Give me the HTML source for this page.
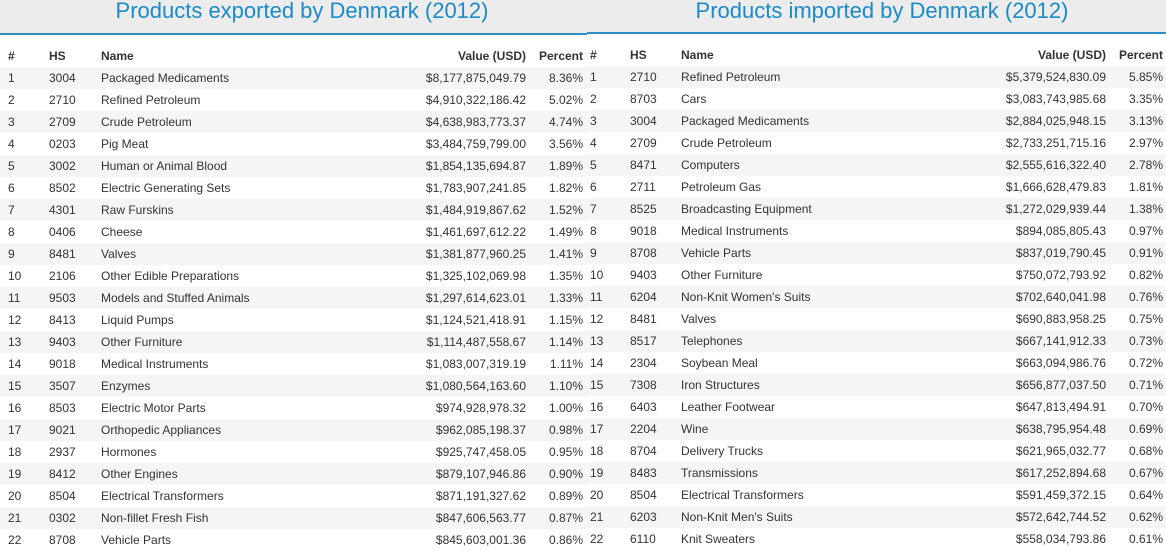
<!DOCTYPE html>
<html><head><meta charset="utf-8"><style>
body{margin:0;width:1166px;height:547px;overflow:hidden;background:#fff;font-family:"Liberation Sans",sans-serif;position:relative}
.hdr{position:absolute;top:0;height:33px;background:#ececec;border-bottom:2px solid #2a8fc4}
.title{position:absolute;top:-2px;font-size:22px;color:#1a8ac9;white-space:nowrap;transform:translateX(-50%)}
.panel{position:absolute;top:0;height:547px;background:#fff}
.row{position:absolute;left:0;height:22px;font-size:12px;color:#333;line-height:22px}
.row.g{background:#f5f5f5}
.row span{position:absolute;white-space:nowrap}
.row span.r{text-align:right}
.h{font-weight:bold;color:#333}
</style></head><body>
<div class="panel" id="pl" style="left:0;width:587px">
<div class="hdr" style="left:0;width:587px"></div>
<div class="title" style="left:302px">Products exported by Denmark (2012)</div>
</div>
<div class="panel" id="pr" style="left:587px;width:579px">
<div class="hdr" style="left:0;width:579px;top:-1px"></div>
<div class="title" style="left:295px">Products imported by Denmark (2012)</div>
</div>
<script>
const exp=[["3004","Packaged Medicaments","$8,177,875,049.79","8.36%"],["2710","Refined Petroleum","$4,910,322,186.42","5.02%"],["2709","Crude Petroleum","$4,638,983,773.37","4.74%"],["0203","Pig Meat","$3,484,759,799.00","3.56%"],["3002","Human or Animal Blood","$1,854,135,694.87","1.89%"],["8502","Electric Generating Sets","$1,783,907,241.85","1.82%"],["4301","Raw Furskins","$1,484,919,867.62","1.52%"],["0406","Cheese","$1,461,697,612.22","1.49%"],["8481","Valves","$1,381,877,960.25","1.41%"],["2106","Other Edible Preparations","$1,325,102,069.98","1.35%"],["9503","Models and Stuffed Animals","$1,297,614,623.01","1.33%"],["8413","Liquid Pumps","$1,124,521,418.91","1.15%"],["9403","Other Furniture","$1,114,487,558.67","1.14%"],["9018","Medical Instruments","$1,083,007,319.19","1.11%"],["3507","Enzymes","$1,080,564,163.60","1.10%"],["8503","Electric Motor Parts","$974,928,978.32","1.00%"],["9021","Orthopedic Appliances","$962,085,198.37","0.98%"],["2937","Hormones","$925,747,458.05","0.95%"],["8412","Other Engines","$879,107,946.86","0.90%"],["8504","Electrical Transformers","$871,191,327.62","0.89%"],["0302","Non-fillet Fresh Fish","$847,606,563.77","0.87%"],["8708","Vehicle Parts","$845,603,001.36","0.86%"]];
const imp=[["2710","Refined Petroleum","$5,379,524,830.09","5.85%"],["8703","Cars","$3,083,743,985.68","3.35%"],["3004","Packaged Medicaments","$2,884,025,948.15","3.13%"],["2709","Crude Petroleum","$2,733,251,715.16","2.97%"],["8471","Computers","$2,555,616,322.40","2.78%"],["2711","Petroleum Gas","$1,666,628,479.83","1.81%"],["8525","Broadcasting Equipment","$1,272,029,939.44","1.38%"],["9018","Medical Instruments","$894,085,805.43","0.97%"],["8708","Vehicle Parts","$837,019,790.45","0.91%"],["9403","Other Furniture","$750,072,793.92","0.82%"],["6204","Non-Knit Women's Suits","$702,640,041.98","0.76%"],["8481","Valves","$690,883,958.25","0.75%"],["8517","Telephones","$667,141,912.33","0.73%"],["2304","Soybean Meal","$663,094,986.76","0.72%"],["7308","Iron Structures","$656,877,037.50","0.71%"],["6403","Leather Footwear","$647,813,494.91","0.70%"],["2204","Wine","$638,795,954.48","0.69%"],["8704","Delivery Trucks","$621,965,032.77","0.68%"],["8483","Transmissions","$617,252,894.68","0.67%"],["8504","Electrical Transformers","$591,459,372.15","0.64%"],["6203","Non-Knit Men's Suits","$572,642,744.52","0.62%"],["6110","Knit Sweaters","$558,034,793.86","0.61%"]];
function build(panel,data,c,w,dy,prefix){
  const hdr=["#","HS","Name","Value (USD)","Percent"];
  const mk=(vals,top,cls,nm)=>{
    const r=document.createElement('div');
    r.className='row '+cls;
    
    
    r.style.top=top+'px';r.style.width=w+'px';
    vals.forEach((v,i)=>{
      const s=document.createElement('span');
      s.textContent=v;
      if(i>=3){s.className='r';s.style.right=c[i]+'px';}else s.style.left=c[i]+'px';
      r.appendChild(s);
    });
    panel.appendChild(r);
  };
  mk(hdr,45+dy,'h',prefix+'-column-headers');
  data.forEach((d,i)=>mk([String(i+1)].concat(d),67+dy+22*i,i%2==0?'g':'',prefix+'-row-'+(i+1)));
}
build(document.getElementById('pl'),exp,[8,49,101,61,4],587,0,'export');
build(document.getElementById('pr'),imp,[3,43,94,60,3],579,-1,'import');
</script>
</body></html>
